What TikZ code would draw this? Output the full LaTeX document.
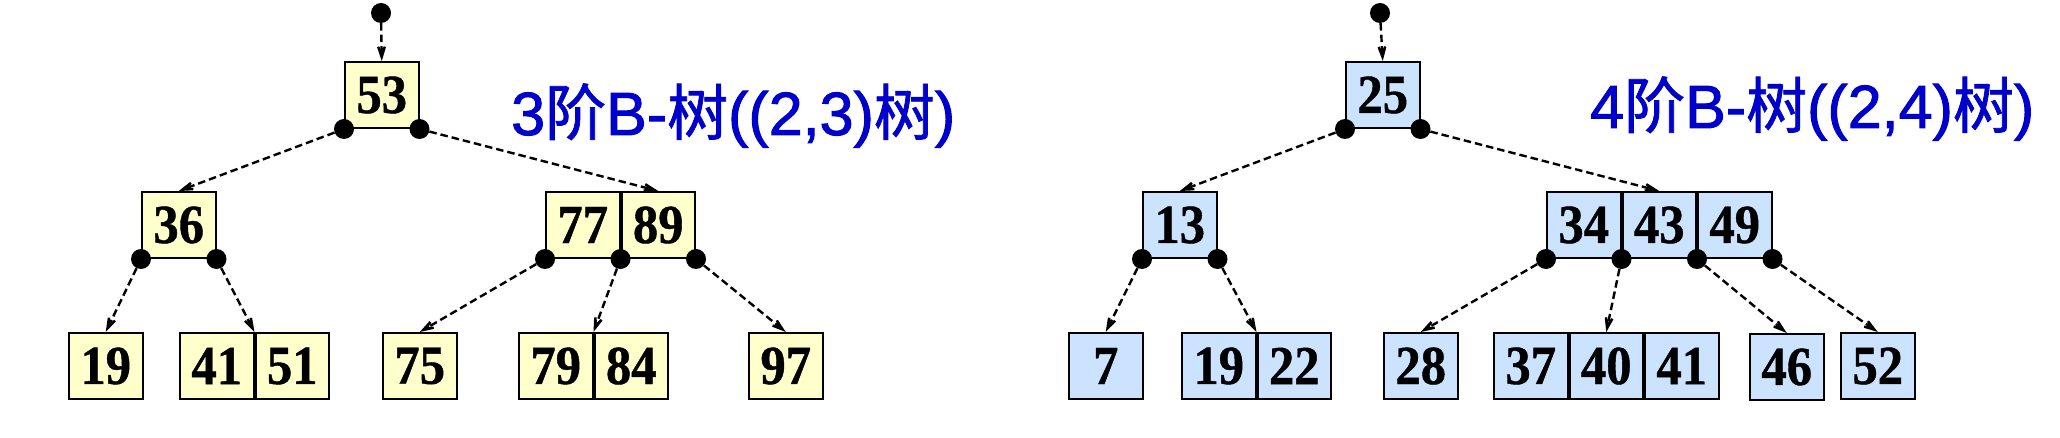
\documentclass[tikz,border=0pt]{standalone}
\usepackage{fontspec}
\usepackage{graphicx}
\setmainfont{Liberation Serif}
\newfontfamily\numfont{Liberation Serif Bold}[FakeBold=0.8]
\newfontfamily\titlefont{Liberation Sans}[FakeBold=1.6]
\newfontfamily\cjk{Noto Sans CJK SC}[FakeBold=1.2]
\usetikzlibrary{arrows.meta}
\definecolor{cellyellow}{HTML}{FFFFCC}
\definecolor{cellblue}{HTML}{CCE3FF}
\definecolor{titleblue}{HTML}{0000CC}
\newcommand\bnum[1]{\scalebox{0.92}[1]{\numfont #1}}
\begin{document}
\begin{tikzpicture}[x=1pt,y=-1pt,
  cell/.style={draw=black, line width=2pt, minimum width=73.5pt, minimum height=66pt,
    inner sep=0pt, anchor=north west, font=\fontsize{55}{55}\selectfont},
  ycell/.style={cell, fill=cellyellow},
  bcell/.style={cell, fill=cellblue},
  ptr/.style={circle, fill=black, inner sep=0pt, minimum size=20pt},
  link/.style={draw=black, line width=2.4pt, dash pattern=on 7.5pt off 4pt,
    -{Stealth[length=31pt,width=20pt,inset=21pt]}},
  titlestyle/.style={anchor=base west, inner sep=0pt, text=titleblue,
    font=\titlefont\fontsize{61}{61}\selectfont}
]
\useasboundingbox (0,0) rectangle (2060,438);

% ---------------- left tree: 3-order B-tree ----------------
\node[ycell] (c53) at (344,61) {\bnum{53}};
\node[ycell] (c36) at (141,191) {\bnum{36}};
\node[ycell] (c77) at (545,191) {\bnum{77}};
\node[ycell] (c89) at (c77.north east) {\bnum{89}};

\node[ycell] (L19) at (68,332) {\bnum{19}};
\node[ycell] (L41) at (179,332) {\bnum{41}};
\node[ycell] (L51) at (L41.north east) {\bnum{51}};
\node[ycell] (L75) at (382,332) {\bnum{75}};
\node[ycell] (L79) at (518,332) {\bnum{79}};
\node[ycell] (L84) at (L79.north east) {\bnum{84}};
\node[ycell] (L97) at (748,332) {\bnum{97}};

\node[ptr] (pL) at (381,13) {};
\node[ptr] (p53a) at (c53.south west) {};
\node[ptr] (p53b) at (c53.south east) {};
\node[ptr] (p36a) at (c36.south west) {};
\node[ptr] (p36b) at (c36.south east) {};
\node[ptr] (p77a) at (c77.south west) {};
\node[ptr] (p77b) at (c77.south east) {};
\node[ptr] (p89b) at (c89.south east) {};

\draw[link] (pL) -- (c53.north);
\draw[link] (p53a) -- (c36.north);
\draw[link] (p53b) -- (c89.north);
\draw[link] (p36a) -- (L19.north);
\draw[link] (p36b) -- (L41.north east);
\draw[link] (p77a) -- (L75.north);
\draw[link] (p77b) -- (L79.north east);
\draw[link] (p89b) -- (L97.north);

\node[titlestyle] (t1) at (511,135) {3{\cjk 阶}B-{\cjk 树}((2,3){\cjk 树})};

% ---------------- right tree: 4-order B-tree ----------------
\node[bcell] (R25) at (1345,61) {\bnum{25}};
\node[bcell] (R13) at (1142,191) {\bnum{13}};
\node[bcell] (R34) at (1546,191) {\bnum{34}};
\node[bcell] (R43) at (R34.north east) {\bnum{43}};
\node[bcell] (R49) at (R43.north east) {\bnum{49}};

\node[bcell] (R7) at (1068,332) {\bnum{7}};
\node[bcell] (R19) at (1181,332) {\bnum{19}};
\node[bcell] (R22) at (R19.north east) {\bnum{22}};
\node[bcell] (R28) at (1383,332) {\bnum{28}};
\node[bcell] (R37) at (1493,332) {\bnum{37}};
\node[bcell] (R40) at (R37.north east) {\bnum{40}};
\node[bcell] (R41) at (R40.north east) {\bnum{41}};
\node[bcell] (R46) at (1749,333) {\bnum{46}};
\node[bcell] (R52) at (1840,332) {\bnum{52}};

\node[ptr] (pR) at (1380,13) {};
\node[ptr] (p25a) at (R25.south west) {};
\node[ptr] (p25b) at (R25.south east) {};
\node[ptr] (p13a) at (R13.south west) {};
\node[ptr] (p13b) at (R13.south east) {};
\node[ptr] (p34a) at (R34.south west) {};
\node[ptr] (p34b) at (R34.south east) {};
\node[ptr] (p43b) at (R43.south east) {};
\node[ptr] (p49b) at (R49.south east) {};

\draw[link] (pR) -- (R25.north);
\draw[link] (p25a) -- (R13.north);
\draw[link] (p25b) -- (R43.north);
\draw[link] (p13a) -- (R7.north);
\draw[link] (p13b) -- (R19.north east);
\draw[link] (p34a) -- (R28.north);
\draw[link] (p34b) -- (R40.north);
\draw[link] (p43b) -- (R46.north);
\draw[link] (p49b) -- (R52.north);

\node[titlestyle] (t2) at (1590,128) {4{\cjk 阶}B-{\cjk 树}((2,4){\cjk 树})};
\end{tikzpicture}
\end{document}
